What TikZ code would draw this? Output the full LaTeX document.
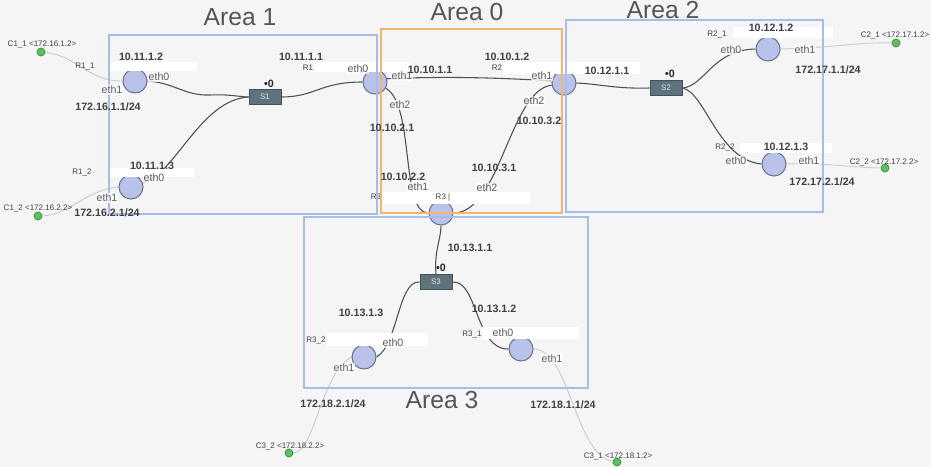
\documentclass[tikz,border=0pt]{standalone}
\usepackage{fontspec}
\setmainfont{Liberation Sans}
\definecolor{bgc}{HTML}{F5F5F5}
\definecolor{areab}{HTML}{A6BDE8}
\definecolor{areao}{HTML}{F2B56E}
\definecolor{rfill}{HTML}{B9C3EA}
\definecolor{rdraw}{HTML}{6C7390}
\definecolor{sfill}{HTML}{5F737D}
\definecolor{sdraw}{HTML}{44535B}
\definecolor{cfill}{HTML}{5DC05D}
\definecolor{cdraw}{HTML}{2E8B3A}
\definecolor{linec}{HTML}{505050}
\definecolor{clinec}{HTML}{CCCCCC}
\definecolor{txt}{HTML}{404040}
\definecolor{etht}{HTML}{5A5A5A}
\definecolor{areat}{HTML}{555555}
\pgfdeclarelayer{back}
\pgfdeclarelayer{conn}
\pgfdeclarelayer{boxes}
\pgfdeclarelayer{areas}
\pgfdeclarelayer{labels}
\pgfsetlayers{back,conn,main,boxes,areas,labels}
\tikzset{
  router/.style={circle,draw=rdraw,fill=rfill,line width=0.8pt,minimum size=18pt,inner sep=0pt},
  switchbox/.style={rectangle,draw=sdraw,fill=sfill,line width=0.6pt,minimum width=24pt,minimum height=11pt,inner sep=0pt,text=white!80!sfill,font=\fontsize{6}{7}\selectfont},
  client/.style={circle,draw=cdraw,fill=cfill,line width=0.5pt,minimum size=6pt,inner sep=0pt},
  conn/.style={draw=linec,line width=0.8pt},
  cconn/.style={draw=clinec,line width=0.7pt},
  ipl/.style={font=\fontsize{8}{9}\selectfont\bfseries,text=txt,inner sep=0pt},
  dotl/.style={font=\fontsize{8}{9}\selectfont\bfseries,text=black!85,inner sep=0pt},
  ethl/.style={font=\fontsize{8}{9}\selectfont,text=etht,fill=white,fill opacity=0.75,text opacity=1,inner sep=0.6pt},
  namel/.style={font=\fontsize{6}{7}\selectfont,text=txt,inner sep=0pt},
  arealbl/.style={font=\fontsize{18.5}{20}\selectfont,text=areat,inner sep=0pt},
  wbox/.style={fill=white,draw=none},
  areabox/.style={draw=areab,line width=1.5pt},
}
\begin{document}
\begin{tikzpicture}[x=0.75pt,y=-0.75pt]
\begin{pgfonlayer}{back}
\fill[bgc] (0,0) rectangle (931,467);
\end{pgfonlayer}
\useasboundingbox (0,0) rectangle (931,467);

% devices
\node[router] (r11) at (135,81) {};
\node[router] (r12) at (131,187) {};
\node[router] (r1) at (375,82) {};
\node[router] (r2) at (564,83) {};
\node[router] (r3) at (441,213) {};
\node[router] (r21) at (768,49) {};
\node[router] (r22) at (774,164) {};
\node[router] (r32) at (364,357) {};
\node[router] (r31) at (521,349) {};
\node[switchbox] (s1) at (265,97) {S1};
\node[switchbox] (s2) at (666,88) {S2};
\node[switchbox] (s3) at (436,282) {S3};
\node[client] (c11) at (41,52) {};
\node[client] (c12) at (38,216) {};
\node[client] (c21) at (896,43) {};
\node[client] (c22) at (885,168) {};
\node[client] (c32) at (289,453) {};
\node[client] (c31) at (617,462) {};
\node[namel] (r3cut) at (376,197) {R3};

% connectors
\begin{pgfonlayer}{conn}
\draw[conn] (r11.east) .. controls (175,83) and (185,96) .. (210,95) .. controls (230,94) and (240,97) .. (s1.west);
\draw[conn] (r12.20) .. controls (175,175) and (200,100) .. (s1.west);
\draw[conn] (s1.east) .. controls (315,97) and (320,82) .. (r1.west);
\draw[conn] (r1.15) .. controls (450,76) and (500,78) .. (r2.170);
\draw[conn] (r1.-30) .. controls (415,105) and (400,213) .. (r3.west);
\draw[conn] (r2.190) .. controls (510,90) and (500,213) .. (r3.east);
\draw[conn] (r2.east) .. controls (600,84) and (615,89) .. (s2.west);
\draw[conn] (s2.east) .. controls (705,86) and (712,50) .. (r21.west);
\draw[conn] (s2.east) .. controls (705,92) and (718,160) .. (r22.west);
\draw[conn] (s3.north) .. controls (434,250) and (441,240) .. (r3.south);
\draw[conn] (s3.west) .. controls (398,280) and (398,345) .. (r32.east);
\draw[conn] (s3.east) .. controls (478,280) and (475,350) .. (r31.west);
\draw[cconn] (c11) .. controls (75,55) and (90,82) .. (r11.west);
\draw[cconn] (c12) .. controls (70,215) and (85,190) .. (r12.west);
\draw[cconn] (r21.east) .. controls (830,48) and (860,42) .. (c21);
\draw[cconn] (r22.east) .. controls (830,163) and (860,168) .. (c22);
\draw[cconn] (c32) .. controls (315,452) and (320,375) .. (r32.west);
\draw[cconn] (r31.east) .. controls (570,350) and (575,455) .. (c31);
\end{pgfonlayer}

% white label backgrounds
\begin{pgfonlayer}{boxes}
\fill[wbox] (108,62) rectangle (197,71);
\fill[wbox] (110,168) rectangle (194,177);
\fill[wbox] (315,62) rectangle (410,72);
\fill[wbox] (503,62) rectangle (640,74);
\fill[wbox] (383,192) rectangle (530,204);
\fill[wbox] (733,27) rectangle (833,38);
\fill[wbox] (740,143) rectangle (832,153);
\fill[wbox] (327,333) rectangle (428,346);
\fill[wbox] (482,327) rectangle (579,339);
\end{pgfonlayer}

% areas
\begin{pgfonlayer}{areas}
\draw[areabox] (109,35) rectangle (377,214);
\draw[areabox,draw=areao] (381,29) rectangle (562,213);
\draw[areabox] (566,20) rectangle (823,212);
\draw[areabox] (304,217) rectangle (588,388);
\end{pgfonlayer}

% labels
\begin{pgfonlayer}{labels}
\node[arealbl] (a1) at (240,17) {Area 1};
\node[arealbl] (a0) at (467,12) {Area 0};
\node[arealbl] (a2) at (663,10) {Area 2};
\node[arealbl] (a3) at (442,400) {Area 3};

\node[namel] (lc11) at (42,45) {C1\_1 <172.16.1.2>};
\node[namel] (lr11) at (85,67) {R1\_1};
\node[ipl] (ip11) at (141,57) {10.11.1.2};
\node[ethl] (e110) at (159,77) {eth0};
\node[ethl] (e111) at (112,90) {eth1};
\node[ipl] (ipa) at (108,107) {172.16.1.1/24};

\node[namel] (lr12) at (82,173) {R1\_2};
\node[ipl] (ip12) at (152,166) {10.11.1.3};
\node[ethl] (e120) at (154,178) {eth0};
\node[ethl] (e121) at (107,198) {eth1};
\node[ipl] (ipb) at (107,213) {172.16.2.1/24};
\node[namel] (lc12) at (38,209) {C1\_2 <172.16.2.2>};

\node[dotl] (d1) at (269,84) {•0};
\node[ipl] (ip1a) at (301,57) {10.11.1.1};
\node[namel] (lr1) at (308,68) {R1};
\node[ethl] (e10) at (358,69) {eth0};
\node[ethl] (e11) at (402,76) {eth1};
\node[ipl] (ip1b) at (430,70) {10.10.1.1};
\node[ethl] (e12) at (400,105) {eth2};
\node[ipl] (ip1c) at (392,128) {10.10.2.1};

\node[ipl] (ip3a) at (403,177) {10.10.2.2};
\node[ethl] (e31) at (418,187) {eth1};
\node[namel] (lr3) at (443,197) {R3 |};
\node[ipl] (ip3b) at (494,168) {10.10.3.1};
\node[ethl] (e32) at (487,188) {eth2};

\node[ipl] (ip2a) at (507,57) {10.10.1.2};
\node[namel] (lr2) at (497,68) {R2};
\node[ethl] (e21) at (542,76) {eth1};
\node[ethl] (e22) at (534,101) {eth2};
\node[ipl] (ip2b) at (539,121) {10.10.3.2};
\node[ipl] (ip2c) at (607,71) {10.12.1.1};
\node[dotl] (d2) at (670,74) {•0};

\node[namel] (lr21) at (717,35) {R2\_1};
\node[ipl] (ip21) at (771,28) {10.12.1.2};
\node[ethl] (e210) at (731,50) {eth0};
\node[ethl] (e211) at (805,50) {eth1};
\node[ipl] (ipc) at (828,70) {172.17.1.1/24};
\node[namel] (lc21) at (895,36) {C2\_1 <172.17.1.2>};

\node[namel] (lr22) at (725,148) {R2\_2};
\node[ipl] (ip22) at (786,147) {10.12.1.3};
\node[ethl] (e220) at (736,161) {eth0};
\node[ethl] (e221) at (809,161) {eth1};
\node[ipl] (ipd) at (822,182) {172.17.2.1/24};
\node[namel] (lc22) at (884,163) {C2\_2 <172.17.2.2>};

\node[ipl] (ip3c) at (470,248) {10.13.1.1};
\node[dotl] (d3) at (441,268) {•0};
\node[ipl] (ip32) at (361,313) {10.13.1.3};
\node[ipl] (ip31) at (494,309) {10.13.1.2};
\node[namel] (lr32) at (316,340) {R3\_2};
\node[ethl] (e320) at (393,343) {eth0};
\node[ethl] (e321) at (344,368) {eth1};
\node[namel] (lr31) at (472,334) {R3\_1};
\node[ethl] (e310) at (503,333) {eth0};
\node[ethl] (e311) at (552,359) {eth1};
\node[ipl] (ipe) at (333,404) {172.18.2.1/24};
\node[namel] (lc32) at (290,446) {C3\_2 <172.18.2.2>};
\node[ipl] (ipf) at (563,405) {172.18.1.1/24};
\node[namel] (lc31) at (618,456) {C3\_1 <172.18.1.2>};
\end{pgfonlayer}
\end{tikzpicture}
\end{document}
